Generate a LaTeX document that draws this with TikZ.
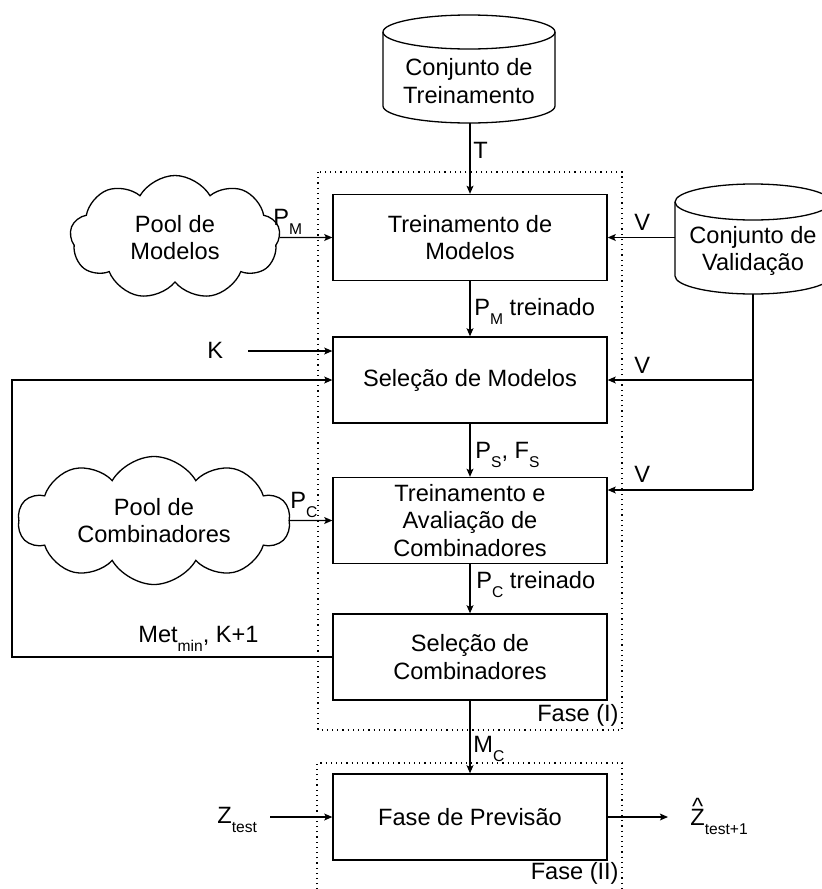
\documentclass[tikz,border=0pt]{standalone}
\usepackage{fontspec}
\setmainfont{Liberation Sans}
\usetikzlibrary{shapes.symbols,arrows.meta}
\newcommand\sbx[1]{\raisebox{-4.5pt}{\fontsize{7.8pt}{8pt}\selectfont #1}}
\newcommand\zhat{\leavevmode\setbox0\hbox{Z}\rlap{\makebox[\wd0]{\raisebox{5.3pt}{\textasciicircum}}}Z}
\begin{document}
\begin{tikzpicture}[x=0.5pt,y=-0.5pt,
  font=\fontsize{11.8pt}{13.7pt}\selectfont,
  box/.style={draw, line width=0.65pt, minimum width=137pt, minimum height=43pt, inner sep=0pt, align=center, fill=white},
  arr/.style={line width=0.65pt, -{Stealth[length=4pt,width=3.4pt,inset=0.8pt]}},
  ln/.style={line width=0.65pt},
  phase/.style={dotted, line width=0.6pt},
  cloudn/.style={cloud, cloud puff arc=120, cloud ignores aspect, draw, line width=0.65pt, align=center, inner sep=0pt},
  lbl/.style={inner sep=0pt, anchor=base west}]
\useasboundingbox (0,0) rectangle (821,889);

% phase frames
\draw[phase] (318,172) rectangle (622,730);
\draw[phase] (317,900) -- (317,763) -- (622,763) -- (622,900);
\node[anchor=east, inner sep=0pt] (f1) at (619,715) {Fase (I)};
\node[anchor=east, inner sep=0pt] (f2) at (619,873) {Fase (II)};

% cylinder: Conjunto de Treinamento
\draw[ln, fill=white] (383,32) -- (383,106) arc[start angle=180,end angle=360,x radius=43pt,y radius=8.5pt] -- (555,32);
\draw[ln] (469,32) ellipse [x radius=43pt, y radius=8.5pt];
\node[align=center, inner sep=0pt] (cyT) at (469,81) {Conjunto de\\Treinamento};
\coordinate (cyTb) at (470,123);

% cylinder: Conjunto de Validacao
\draw[ln, fill=white] (675,202) -- (675,276) arc[start angle=180,end angle=360,x radius=39pt,y radius=9pt] -- (831,202);
\draw[ln] (753,202) ellipse [x radius=39pt, y radius=9pt];
\node[align=center, inner sep=0pt] (cyV) at (753,251) {Conjunto de\\Validação};
\coordinate (cyVl) at (675,237.5);
\coordinate (cyVb) at (753,294);
\coordinate (vj1) at (753,380);
\coordinate (vj2) at (753,490);

% boxes
\node[box] (b1) at (470,237.5) {Treinamento de\\Modelos};
\node[box] (b2) at (470,380) {Seleção de Modelos};
\node[box] (b3) at (470,520.5) {Treinamento e\\Avaliação de\\Combinadores};
\node[box] (b4) at (470,657) {Seleção de\\Combinadores};
\node[box] (b5) at (470,817) {Fase de Previsão};

% clouds
\node[cloudn, cloud puffs=9, minimum width=105pt, minimum height=62pt] (cm) at (175,237.5) {Pool de\\Modelos};
\node[cloudn, cloud puffs=10, minimum width=136pt, minimum height=64pt] (cc) at (154,520.5) {Pool de\\Combinadores};

% connectors
\draw[arr] (cyTb) -- (b1.north);
\draw[arr] (cm.east) -- (b1.west);
\draw[arr] (cyVl) -- (b1.east);
\draw[arr] (b1.south) -- (b2.north);
\draw[arr] (b2.south) -- (b3.north);
\draw[arr] (b3.south) -- (b4.north);
\draw[arr] (b4.south) -- (b5.north);
\draw[ln] (cyVb) -- (vj2);
\draw[arr] (vj1) -- (b2.east);
\draw[arr] (vj2) -- (vj2 -| b3.east);
\coordinate (kst) at (248,351);
\draw[arr] (kst) -- (kst -| b2.west);
\coordinate (lp) at (12,0);
\draw[arr] (b4.west) -- (b4.west -| lp) |- (b2.west);
\draw[arr] (cc.east) -- (b3.west);
\coordinate (zst) at (270,817);
\draw[arr] (zst) -- (b5.west);
\coordinate (zend) at (668,817);
\draw[arr] (b5.east) -- (zend);

% labels
\node[lbl] (lT) at (473,158) {T};
\node[lbl] (lPM) at (273,225) {P\sbx{M}};
\node[lbl] (lV1) at (634,230) {V};
\node[lbl] (lPMt) at (474,315) {P\sbx{M} treinado};
\node[lbl] (lK) at (207,358) {K};
\node[lbl] (lV2) at (634,373) {V};
\node[lbl] (lPS) at (475,458) {P\sbx{S}, F\sbx{S}};
\node[lbl] (lPC) at (290,508) {P\sbx{C}};
\node[lbl] (lV3) at (634,482) {V};
\node[lbl] (lPCt) at (476,588) {P\sbx{C} treinado};
\node[lbl] (lMet) at (138,642) {Met\sbx{min}, K+1};
\node[lbl] (lMC) at (473,752) {M\sbx{C}};
\node[lbl] (lZ) at (217,823) {Z\sbx{test}};
\node[lbl] (lZh) at (690,825) {\zhat\sbx{test+1}};
\end{tikzpicture}
\end{document}
